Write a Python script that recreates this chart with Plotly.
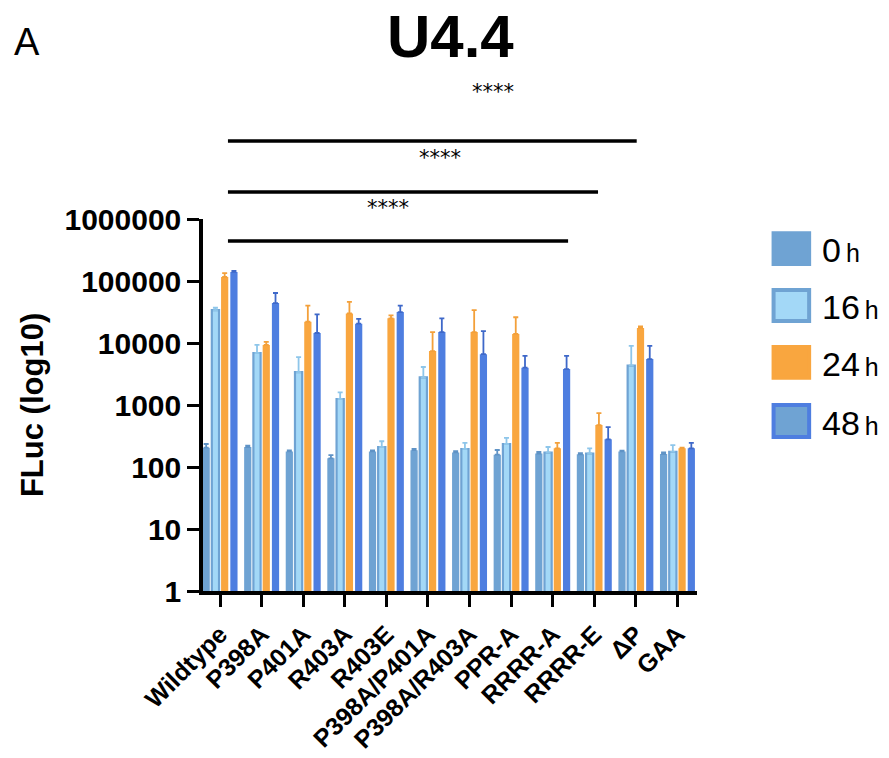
import plotly.graph_objects as go

categories = ["Wildtype", "P398A", "P401A", "R403A", "R403E", "P398A/P401A",
              "P398A/R403A", "PPR-A", "RRRR-A", "RRRR-E", "ΔP", "GAA"]

h0 = [205, 210, 178, 138, 178, 187, 172, 158, 165, 160, 178, 162]
h0_err = [30, 10, 8, 17, 8, 8, 8, 30, 10, 8, 5, 10]
h16 = [34000, 6900, 3400, 1250, 210, 2800, 195, 235, 170, 165, 4300, 175]
h16_err = [3000, 2400, 2500, 350, 50, 1300, 50, 60, 40, 35, 4700, 50]
h24 = [116000, 9300, 22000, 30000, 25000, 7400, 15000, 14000, 200, 475, 17500, 200]
h24_err = [18000, 1100, 18000, 16000, 3000, 7600, 19000, 12000, 45, 265, 1000, 5]
h48 = [140000, 44000, 14500, 20500, 31500, 15000, 6600, 4000, 3800, 280, 5500, 200]
h48_err = [5000, 20000, 14500, 4000, 8500, 10000, 8900, 2200, 2400, 160, 3500, 45]

series_names = ["0", "16", "24", "48"]
y_ticks = [1, 10, 100, 1000, 10000, 100000, 1000000]
y_ticktext = ["1", "10", "100", "1000", "10000", "100000", "1000000"]

# significance brackets: (start, end in category units, paper y)
sig_lines = [(0.19, 10.02, 1.2097), (0.19, 9.09, 1.0726), (0.19, 8.37, 0.9409)]
sig_stars = [(6.56, 1.341), (5.29, 1.164), (4.04, 1.030)]

STEEL = "#6fa3d3"
SKY = "#a3d8f7"
ORANGE = "#f9a63f"
ROYAL = "#4e7ee0"

x_idx = list(range(len(categories)))
fig = go.Figure()
specs = [
    (h0, h0_err, STEEL, STEEL, 0, "#5f93c6"),
    (h16, h16_err, SKY, STEEL, 2.2, "#8ec6ea"),
    (h24, h24_err, ORANGE, ORANGE, 0, "#f3a03a"),
    (h48, h48_err, ROYAL, ROYAL, 0, "#3e68c9"),
]
for name, (vals, errs, fill, line, lw, ecol) in zip(series_names, specs):
    fig.add_trace(go.Bar(
        x=x_idx, y=vals, name=name + " h",
        marker=dict(color=fill, line=dict(color=line, width=lw)),
        error_y=dict(type="data", symmetric=False, array=errs,
                     arrayminus=[0] * len(errs), color=ecol,
                     thickness=1.8, width=2.5),
        showlegend=False,
    ))

fig.update_layout(
    width=889, height=758,
    margin=dict(l=203, r=192, t=219, b=167),
    paper_bgcolor="white", plot_bgcolor="white",
    barmode="group", bargap=0.11, bargroupgap=0.22,
    font=dict(family="Liberation Sans, Arial, sans-serif", color="black"),
)
fig.update_xaxes(
    range=[-0.41, 11.47], tickmode="array", tickvals=x_idx, ticktext=categories,
    tickangle=-45, tickfont=dict(size=25, weight=700, family="Liberation Sans"),
    ticklabelstandoff=3,
    showline=True, linecolor="black", linewidth=3.5, ticks="outside", automargin=False,
    ticklen=12, tickwidth=3, tickcolor="black", showgrid=False, zeroline=False,
)
fig.update_yaxes(
    type="log", range=[0, 6], tickmode="array", tickvals=y_ticks, automargin=False,
    ticktext=y_ticktext, tickfont=dict(size=30, weight=700, family="Liberation Sans"),
    showline=True, linecolor="black", linewidth=3.5, ticks="outside",
    ticklen=12, tickwidth=3, tickcolor="black", showgrid=False, zeroline=False,
)

shapes = []
for x0, x1, yp in sig_lines:
    shapes.append(dict(type="line", xref="x", yref="paper", x0=x0, x1=x1, y0=yp, y1=yp,
                       line=dict(color="black", width=3.5)))
annotations = []
for xs, ys in sig_stars:
    annotations.append(dict(text="****", xref="x", yref="paper", x=xs, y=ys,
                            showarrow=False, font=dict(size=21, family="DejaVu Sans"),
                            xanchor="center", yanchor="middle"))

annotations.append(dict(text="FLuc (log10)", xref="paper", yref="paper", x=-0.346, y=0.5,
                        textangle=-90, showarrow=False, xanchor="center", yanchor="middle",
                        font=dict(size=31, weight=700, family="Liberation Sans")))
annotations.append(dict(text="<b>U4.4</b>", xref="paper", yref="paper", x=0.5, y=1.49,
                        showarrow=False, xanchor="center", yanchor="middle",
                        font=dict(size=60, family="Liberation Sans Narrow, Liberation Sans")))
annotations.append(dict(text="A", xref="paper", yref="paper", x=-0.356, y=1.475,
                        showarrow=False, xanchor="center", yanchor="middle",
                        font=dict(size=38, family="Liberation Sans Narrow, Liberation Sans")))

# manual legend
leg_rows = [(0.962, 0.879), (0.809, 0.726), (0.656, 0.573), (0.500, 0.414)]
leg_fill = [STEEL, SKY, ORANGE, STEEL]
leg_line = [STEEL, STEEL, ORANGE, ROYAL]
for (ytop, ybot), f, l, name in zip(leg_rows, leg_fill, leg_line, series_names):
    shapes.append(dict(type="rect", xref="paper", yref="paper", x0=1.155, x1=1.227,
                       y0=ybot, y1=ytop, fillcolor=f, line=dict(color=l, width=4)))
    annotations.append(dict(
        text=f"{name}<span style='font-size:25px'>\u2009h</span>",
        xref="paper", yref="paper", x=1.249, y=(ytop + ybot) / 2 - 0.005,
        showarrow=False, xanchor="left", yanchor="middle",
        font=dict(size=34, family="Liberation Sans")))

fig.update_layout(shapes=shapes, annotations=annotations)
fig.write_html("out.html")
